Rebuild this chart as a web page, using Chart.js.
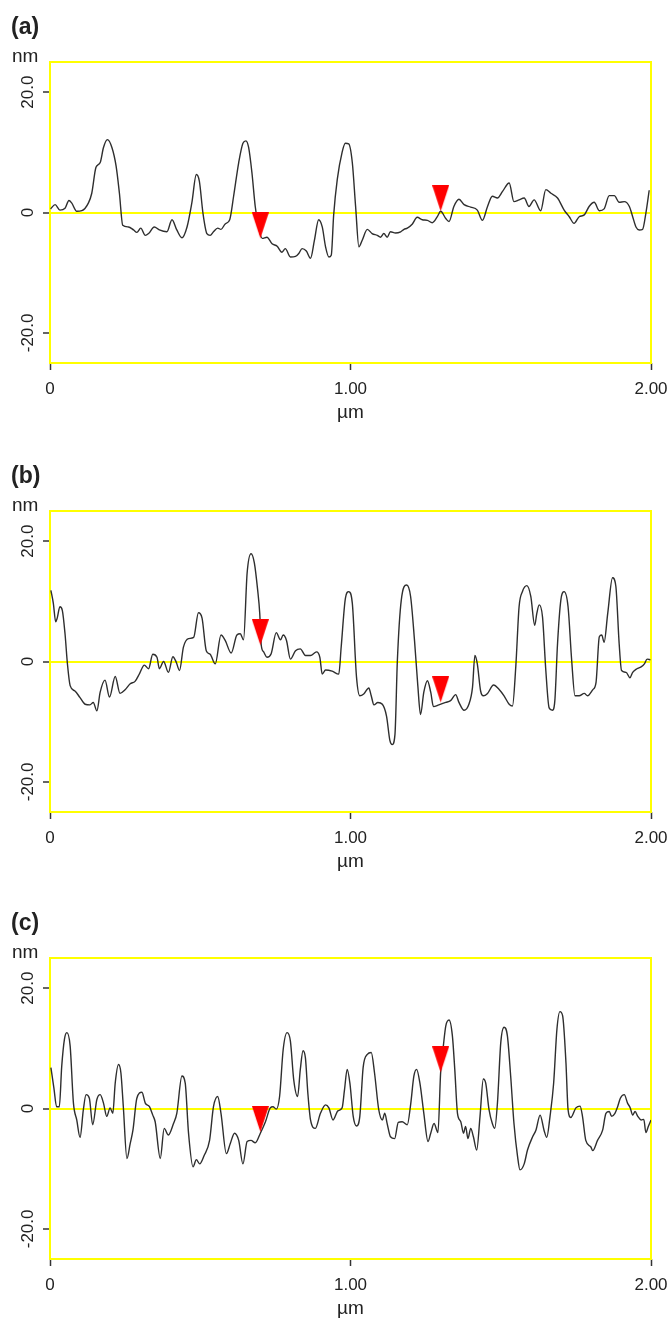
<!DOCTYPE html>
<html>
<head>
<meta charset="utf-8">
<script src="https://cdn.jsdelivr.net/npm/chart.js@4.4.1/dist/chart.umd.min.js"></script>
<style>
  html, body { margin: 0; padding: 0; background: #fff; overflow: hidden; }
  body { width: 670px; height: 1318px; position: relative; font-family: "Liberation Sans", Arial, sans-serif; color: #222; }
  .panel { position: absolute; left: 0; width: 670px; height: 430px; }
  .panel canvas { position: absolute; left: 0; top: 0; }
  .tag { position: absolute; left: 11px; top: 15px; font-weight: bold; font-size: 23px; line-height: 23px; }
  .unit { position: absolute; left: 12px; top: 46px; font-size: 19px; line-height: 19px; }
</style>
</head>
<body>
<div class="panel" style="top:0px"><canvas id="chartA" width="670" height="430"></canvas><div class="tag">(a)</div><div class="unit">nm</div></div>
<div class="panel" style="top:449px"><canvas id="chartB" width="670" height="430"></canvas><div class="tag">(b)</div><div class="unit">nm</div></div>
<div class="panel" style="top:896px"><canvas id="chartC" width="670" height="430"></canvas><div class="tag">(c)</div><div class="unit">nm</div></div>
<script>
// axis ticks
const xTicks = [0, 1, 2];
const xTickLabels = ['0', '1.00', '2.00'];
const yTicks = [-20, 0, 20];
const yTickLabels = ['-20.0', '0', '20.0'];

// red cursor positions (um)
const markerX = [0.70, 1.30];

// profile (a)
const xA = [0.002,0.017,0.033,0.050,0.063,0.072,0.089,0.106,0.128,0.139,0.153,0.167,0.178,0.191,0.206,0.220,0.231,0.242,0.261,0.278,
  0.289,0.302,0.317,0.328,0.347,0.364,0.389,0.406,0.422,0.439,0.456,0.472,0.487,0.497,0.509,0.522,0.533,0.544,0.558,0.569,
  0.583,0.598,0.611,0.628,0.642,0.652,0.661,0.672,0.683,0.694,0.706,0.722,0.739,0.756,0.772,0.783,0.800,0.817,0.828,0.839,
  0.853,0.867,0.880,0.894,0.906,0.917,0.928,0.936,0.944,0.956,0.972,0.983,0.994,1.006,1.017,1.028,1.039,1.056,1.072,1.089,
  1.100,1.111,1.122,1.133,1.150,1.167,1.178,1.189,1.206,1.222,1.239,1.256,1.272,1.289,1.300,1.317,1.328,1.344,1.361,1.378,
  1.400,1.422,1.439,1.456,1.472,1.489,1.506,1.528,1.544,1.561,1.578,1.594,1.611,1.633,1.650,1.667,1.689,1.711,1.728,1.744,
  1.761,1.778,1.794,1.811,1.828,1.844,1.861,1.878,1.894,1.911,1.928,1.939,1.950,1.961,1.972,1.983,1.994];
const yA = [0.6,1.3,0.4,0.7,2.0,1.6,0.2,0.3,1.6,3.2,7.5,8.3,10.8,12.1,10.8,7.7,3.2,-2.1,-2.4,-2.9,
  -3.3,-2.6,-3.8,-3.5,-2.4,-2.9,-3.2,-1.2,-2.9,-4.2,-2.4,1.6,6.3,5.2,-0.1,-3.5,-3.8,-3.2,-2.6,-2.8,
  -1.9,-1.2,2.7,8.3,11.5,11.9,10.8,6.6,1.0,-2.4,-4.3,-4.1,-5.2,-5.6,-6.6,-6.0,-7.4,-7.3,-6.8,-6.0,
  -6.4,-7.6,-4.6,-1.2,-2.4,-5.7,-7.4,-7.1,-0.4,5.5,10.0,11.5,11.4,8.3,1.0,-5.7,-4.6,-2.8,-3.5,-3.8,
  -4.1,-3.5,-4.1,-3.2,-3.4,-3.2,-2.8,-2.6,-1.9,-0.8,-1.2,-1.3,-1.7,-0.7,0.2,-1.0,-1.5,1.0,2.2,1.3,
  0.9,0.4,-1.3,1.0,2.7,2.4,3.5,4.9,1.8,2.1,2.4,1.0,2.1,0.3,3.8,3.2,2.4,0.4,-0.7,-1.8,
  -0.7,-0.4,1.0,1.7,0.3,0.6,2.8,2.8,1.7,1.8,1.0,-0.7,-2.4,-2.9,-2.8,-0.1,3.7];
const markA = [-4.3, 0.2];

// profile (b)
const xB = [0.003,0.011,0.019,0.024,0.033,0.041,0.050,0.058,0.067,0.083,0.100,0.117,0.133,0.144,0.156,0.167,0.183,0.198,0.217,0.233,
  0.250,0.267,0.283,0.298,0.314,0.328,0.342,0.356,0.364,0.378,0.394,0.409,0.420,0.431,0.444,0.461,0.478,0.494,0.506,0.520,
  0.533,0.550,0.569,0.583,0.603,0.622,0.633,0.644,0.656,0.669,0.680,0.691,0.698,0.703,0.711,0.722,0.736,0.753,0.767,0.776,
  0.787,0.800,0.817,0.833,0.850,0.867,0.887,0.898,0.906,0.917,0.939,0.961,0.969,0.983,0.994,1.006,1.020,1.031,1.044,1.061,
  1.069,1.078,1.091,1.106,1.120,1.131,1.139,1.148,1.156,1.169,1.187,1.200,1.213,1.224,1.233,1.244,1.256,1.267,1.276,1.294,
  1.317,1.333,1.350,1.361,1.378,1.394,1.406,1.414,1.422,1.433,1.442,1.456,1.476,1.494,1.511,1.528,1.539,1.550,1.561,1.572,
  1.587,1.600,1.613,1.620,1.628,1.639,1.650,1.661,1.672,1.680,1.689,1.700,1.711,1.724,1.736,1.747,1.761,1.778,1.789,1.806,
  1.817,1.828,1.836,1.844,1.856,1.872,1.883,1.894,1.902,1.917,1.930,1.939,1.953,1.967,1.978,1.987,1.998];
const yB = [11.8,9.7,6.6,7.2,9.1,8.5,4.6,-0.4,-4.0,-4.9,-6.0,-7.1,-7.2,-6.8,-8.2,-5.1,-3.1,-5.9,-2.5,-5.3,
  -4.7,-3.7,-3.3,-2.0,-0.6,-1.2,1.2,0.7,-1.2,0.0,-1.8,0.8,-0.1,-1.5,2.4,3.8,4.0,8.1,7.2,1.8,
  1.2,-0.4,4.4,3.5,1.4,4.4,4.6,3.6,14.7,17.9,16.4,11.9,8.0,2.7,1.6,0.7,1.3,4.8,3.6,4.4,
  3.5,0.4,1.8,2.1,1.0,1.0,1.6,0.7,-2.1,-1.4,-1.6,-2.1,2.4,10.5,11.6,9.7,-2.6,-5.7,-5.4,-4.4,
  -5.7,-7.2,-6.8,-7.1,-9.1,-13.1,-13.8,-12.1,0.2,10.2,12.7,10.8,3.5,-4.0,-8.8,-5.1,-3.2,-5.1,-7.5,-7.2,
  -6.8,-6.5,-5.5,-6.8,-8.1,-7.1,-4.3,1.0,-0.4,-4.9,-5.7,-5.3,-3.9,-4.6,-5.7,-7.1,-7.4,-0.9,9.1,11.6,
  12.6,10.8,6.0,8.0,9.4,7.4,-1.5,-7.7,-8.1,-6.5,3.0,10.2,11.6,9.1,0.2,-5.7,-5.7,-5.3,-5.7,-4.7,
  -3.5,4.1,4.4,3.2,8.0,13.9,12.5,3.0,-1.5,-1.8,-2.7,-1.8,-1.2,-0.9,-0.4,0.4,0.3];
const markB = [2.7, -6.8];

// profile (c)
const xC = [0.003,0.013,0.022,0.031,0.039,0.048,0.056,0.067,0.078,0.089,0.100,0.111,0.120,0.131,0.142,0.156,0.167,0.178,0.189,0.200,
  0.209,0.217,0.228,0.236,0.244,0.256,0.267,0.276,0.289,0.306,0.317,0.331,0.342,0.350,0.367,0.380,0.394,0.411,0.422,0.439,
  0.450,0.461,0.476,0.487,0.498,0.513,0.531,0.544,0.558,0.569,0.587,0.600,0.614,0.628,0.642,0.656,0.669,0.683,0.700,0.717,
  0.733,0.742,0.753,0.764,0.776,0.789,0.800,0.811,0.824,0.833,0.842,0.850,0.858,0.867,0.883,0.900,0.917,0.928,0.942,0.958,
  0.972,0.980,0.989,0.998,1.009,1.020,1.031,1.042,1.056,1.069,1.080,1.094,1.106,1.114,1.122,1.133,1.147,1.159,1.172,1.189,
  1.200,1.211,1.220,1.231,1.244,1.258,1.267,1.278,1.291,1.300,1.309,1.317,1.328,1.339,1.347,1.356,1.367,1.376,1.383,1.391,
  1.400,1.409,1.420,1.431,1.442,1.450,1.461,1.472,1.480,1.489,1.500,1.511,1.522,1.533,1.544,1.556,1.564,1.578,1.589,1.606,
  1.617,1.631,1.644,1.653,1.664,1.676,1.687,1.697,1.706,1.717,1.724,1.733,1.750,1.764,1.772,1.783,1.800,1.806,1.822,1.839,
  1.850,1.861,1.869,1.880,1.889,1.898,1.911,1.922,1.931,1.939,1.947,1.956,1.967,1.976,1.983,1.991,2.000];
const yC = [6.8,3.4,0.3,0.3,7.0,11.5,12.6,10.4,0.9,-1.9,-4.8,-0.2,2.3,1.7,-2.7,1.5,2.3,0.9,-1.3,0.1,
  -0.8,4.2,7.3,5.9,0.3,-8.3,-5.8,-3.6,1.7,2.7,0.9,0.3,-1.1,-2.2,-8.3,-3.3,-4.4,-2.5,-0.8,5.4,
  4.2,-4.1,-9.7,-8.5,-9.2,-7.8,-5.3,0.3,2.0,-0.8,-7.5,-5.8,-4.1,-5.3,-9.2,-5.5,-5.3,-5.7,-4.1,-2.2,
  0.1,0.3,-0.1,2.0,9.8,12.6,11.2,4.8,2.0,6.5,9.6,8.4,2.6,-1.9,-3.3,-0.8,0.6,0.1,-1.9,-0.4,
  0.1,3.1,6.5,4.2,-1.3,-2.9,-1.3,6.8,9.0,9.3,5.9,-0.2,-1.9,-0.8,-2.5,-4.7,-5.0,-2.3,-2.2,-2.7,
  0.6,5.4,6.5,4.2,-0.8,-5.5,-4.1,-2.5,-4.0,6.0,10.4,13.7,14.7,12.1,6.5,-0.8,-2.2,-4.1,-3.0,-5.0,
  -3.3,-4.7,-6.9,-1.3,4.9,4.2,-0.2,-2.5,-3.3,0.9,10.9,13.5,12.1,5.4,-2.5,-8.0,-10.2,-9.2,-6.9,-4.7,
  -3.6,-1.1,-3.6,-4.8,-1.3,4.2,13.2,16.1,15.4,7.6,-0.2,-1.5,0.1,0.4,-1.3,-5.3,-6.4,-7.0,-5.3,-3.6,
  -0.8,-0.5,-1.3,-0.8,0.3,1.7,2.3,0.9,0.1,-1.1,-0.5,-1.3,-1.9,-1.8,-4.0,-3.0,-1.9];
const markC = [-3.9, 6.0];

const FONT = '"Liberation Sans", Arial, sans-serif';
const YELLOW = '#ffff00';

// red downward triangle, tip at the image centre so it sits on the point
function cursorImage() {
  const c = document.createElement('canvas');
  c.width = 17;
  c.height = 52;
  const g = c.getContext('2d');
  g.fillStyle = '#ff0000';
  g.beginPath();
  g.moveTo(0, 0);
  g.lineTo(17, 0);
  g.lineTo(8.5, 26);
  g.closePath();
  g.fill();
  return c;
}
const cursor = cursorImage();

const frame = {
  id: 'frame',
  beforeDatasetsDraw(chart) {
    const { ctx, chartArea: a } = chart;
    ctx.save();
    ctx.strokeStyle = YELLOW;
    ctx.lineWidth = 2;
    ctx.strokeRect(a.left, a.top, a.right - a.left, a.bottom - a.top);
    ctx.restore();
  }
};

function makeProfile(id, xs, ys, marks) {
  const pts = xs.map((x, i) => ({ x: x, y: ys[i] }));
  const cur = markerX.map((x, i) => ({ x: x, y: marks[i] }));
  new Chart(document.getElementById(id), {
    type: 'line',
    data: {
      datasets: [
        { data: cur, showLine: false, pointStyle: cursor, pointRadius: 10 },
        { data: pts, borderColor: '#2e2e2e', borderWidth: 1.4, pointRadius: 0, cubicInterpolationMode: 'monotone' }
      ]
    },
    options: {
      responsive: false,
      animation: false,
      layout: { padding: { left: 0, right: 19, top: 62, bottom: 6 } },
      plugins: { legend: { display: false }, tooltip: { enabled: false } },
      scales: {
        x: {
          type: 'linear',
          min: 0,
          max: 2,
          afterBuildTicks: (s) => { s.ticks = xTicks.map((v) => ({ value: v })); },
          afterFit: (s) => { s.height = 61; s.paddingLeft = 0; s.paddingRight = 0; },
          ticks: {
            maxRotation: 0,
            padding: 9,
            color: '#222',
            font: { family: FONT, size: 17 },
            callback: (v) => xTickLabels[xTicks.indexOf(v)]
          },
          grid: { drawOnChartArea: false, tickColor: '#333', tickWidth: 1.5, tickLength: 7 },
          border: { display: false },
          title: { display: true, text: 'µm', color: '#222', font: { family: FONT, size: 19 }, padding: 0 }
        },
        y: {
          type: 'linear',
          min: -25,
          max: 25,
          afterBuildTicks: (s) => { s.ticks = yTicks.map((v) => ({ value: v })); },
          afterFit: (s) => { s.width = 50; s.paddingTop = 0; s.paddingBottom = 0; },
          ticks: {
            minRotation: 90,
            maxRotation: 90,
            crossAlign: 'center',
            padding: -5,
            color: '#222',
            font: { family: FONT, size: 17 },
            callback: (v) => yTickLabels[yTicks.indexOf(v)]
          },
          grid: {
            color: (c) => (c.tick && c.tick.value === 0 ? YELLOW : 'rgba(0,0,0,0)'),
            lineWidth: 2,
            tickColor: '#333',
            tickWidth: 1.5,
            tickLength: 7
          },
          border: { display: false }
        }
      }
    },
    plugins: [frame]
  });
}

makeProfile('chartA', xA, yA, markA);
makeProfile('chartB', xB, yB, markB);
makeProfile('chartC', xC, yC, markC);
</script>
</body>
</html>
